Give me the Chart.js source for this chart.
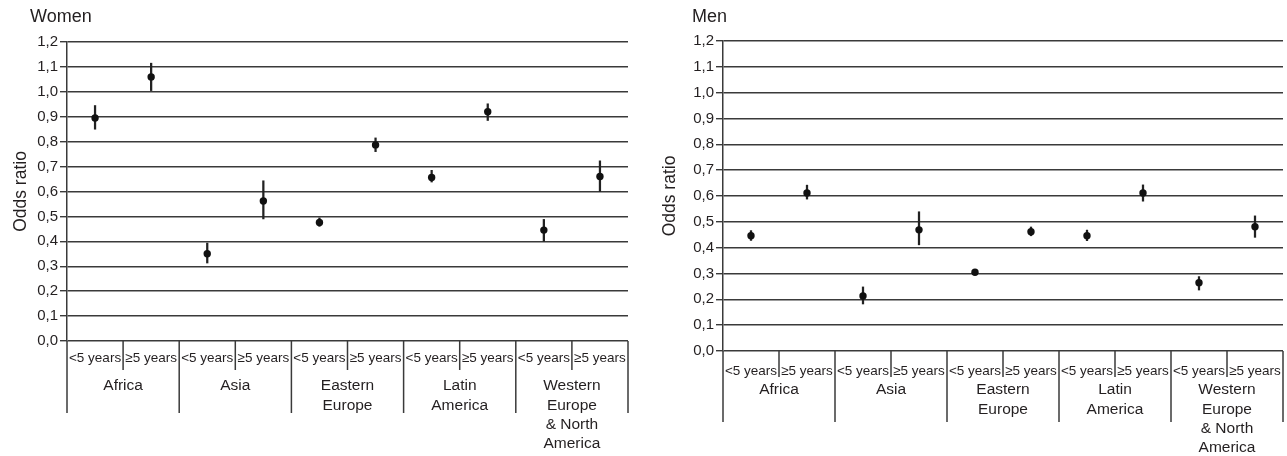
<!DOCTYPE html>
<html>
<head>
<meta charset="utf-8">
<script src="https://cdn.jsdelivr.net/npm/chart.js@4.4.1/dist/chart.umd.min.js"></script>
<style>
  body { margin: 0; background: #fff; }
  #wrap { position: relative; width: 1287px; height: 456px; }
  canvas { position: absolute; top: 0; }
</style>
</head>
<body>
<div id="wrap">
  <canvas id="women" width="640" height="456" style="left:0"></canvas>
  <canvas id="men" width="647" height="456" style="left:640px"></canvas>
</div>
<script>
// categories
const subLabels = ['<5 years', '≥5 years', '<5 years', '≥5 years', '<5 years', '≥5 years',
                   '<5 years', '≥5 years', '<5 years', '≥5 years'];
const regions = [['Africa'], ['Asia'], ['Eastern', 'Europe'], ['Latin', 'America'],
                 ['Western', 'Europe', '& North', 'America']];

// Women: odds ratio + 95% CI
const womenOR   = [0.895, 1.060, 0.350, 0.562, 0.476, 0.787, 0.656, 0.920, 0.445, 0.660];
const womenLow  = [0.850, 1.005, 0.313, 0.490, 0.460, 0.760, 0.638, 0.885, 0.400, 0.600];
const womenHigh = [0.945, 1.115, 0.393, 0.643, 0.494, 0.815, 0.685, 0.952, 0.488, 0.723];

// Men
const menOR   = [0.446, 0.612, 0.213, 0.469, 0.305, 0.462, 0.446, 0.612, 0.264, 0.481];
const menLow  = [0.428, 0.588, 0.182, 0.411, 0.299, 0.446, 0.427, 0.580, 0.236, 0.440];
const menHigh = [0.466, 0.642, 0.248, 0.539, 0.311, 0.480, 0.468, 0.643, 0.288, 0.523];

const FONT = '"Liberation Sans", Arial, sans-serif';
const INK = '#231f20';
const LINE = '#3a3a3a';
Chart.defaults.font.family = FONT;
Chart.defaults.color = INK;

// dividers under the x axis, region names and the panel title
const groupPlugin = {
  id: 'groups',
  afterDraw(chart, args, o) {
    const ctx = chart.ctx;
    const x = chart.scales.x;
    const base = chart.chartArea.bottom;
    ctx.save();
    ctx.strokeStyle = LINE;
    ctx.lineWidth = 1.5;
    for (let i = 0; i <= subLabels.length; i++) {
      const px = x.getPixelForValue(i - 0.5);
      ctx.beginPath();
      ctx.moveTo(px, base);
      ctx.lineTo(px, base + (i % 2 === 0 ? o.groupLen : o.subLen));
      ctx.stroke();
    }
    ctx.fillStyle = INK;
    ctx.font = '15.5px ' + FONT;
    ctx.textAlign = 'center';
    ctx.textBaseline = 'middle';
    regions.forEach((lines, g) => {
      const cx = x.getPixelForValue(2 * g + 0.5);
      lines.forEach((t, k) => ctx.fillText(t, cx, base + o.labelTop + k * 19.3));
    });
    ctx.font = '18px ' + FONT;
    ctx.textAlign = 'left';
    ctx.fillText(o.title, o.titleX, o.titleY);
    ctx.restore();
  }
};

function makeChart(id, or, lo, hi, s) {
  new Chart(document.getElementById(id), {
    type: 'bar',
    data: {
      labels: subLabels,
      datasets: [
        {
          type: 'line',
          data: or,
          showLine: false,
          pointRadius: 3.7,
          pointBorderWidth: 0,
          pointBackgroundColor: '#111',
          order: 1
        },
        {
          type: 'bar',
          data: lo.map((l, i) => [l, hi[i]]),
          backgroundColor: '#222',
          barThickness: 1.6,
          order: 2
        }
      ]
    },
    options: {
      responsive: false,
      animation: false,
      devicePixelRatio: 1,
      layout: { padding: { top: s.top, right: s.right, left: 0, bottom: 0 } },
      plugins: {
        legend: { display: false },
        tooltip: { enabled: false },
        groups: s.groups
      },
      scales: {
        x: {
          grid: { display: false, drawTicks: false },
          border: { display: false },
          ticks: { font: { size: 13.5 }, padding: s.subPad, maxRotation: 0, autoSkip: false, color: INK },
          afterFit: sc => {
            sc.height = s.xHeight;
            sc.paddingLeft = 0;
            sc.paddingRight = 0;
          }
        },
        y: {
          min: 0,
          max: 1.2,
          ticks: {
            stepSize: 0.1,
            padding: 2,
            font: { size: 15 },
            color: INK,
            callback: v => v.toFixed(1).replace('.', ',')
          },
          grid: { color: LINE, lineWidth: 1.4, tickLength: 7 },
          border: { color: LINE, width: 1.5 },
          title: {
            display: true,
            text: 'Odds ratio',
            font: { size: 17.5 },
            color: INK,
            padding: { top: s.titlePad, bottom: 0 }
          },
          afterFit: sc => { sc.width = s.yWidth; }
        }
      }
    },
    plugins: [groupPlugin]
  });
}

makeChart('women', womenOR, womenLow, womenHigh, {
  top: 42, right: 12, yWidth: 67, xHeight: 115, subPad: 9, titlePad: 11,
  groups: { title: 'Women', titleX: 30, titleY: 17, groupLen: 72, subLen: 29, labelTop: 45 }
});

makeChart('men', menOR, menLow, menHigh, {
  top: 41, right: 4, yWidth: 83, xHeight: 105, subPad: 12, titlePad: 20,
  groups: { title: 'Men', titleX: 52, titleY: 17, groupLen: 71, subLen: 26, labelTop: 39 }
});
</script>
</body>
</html>
